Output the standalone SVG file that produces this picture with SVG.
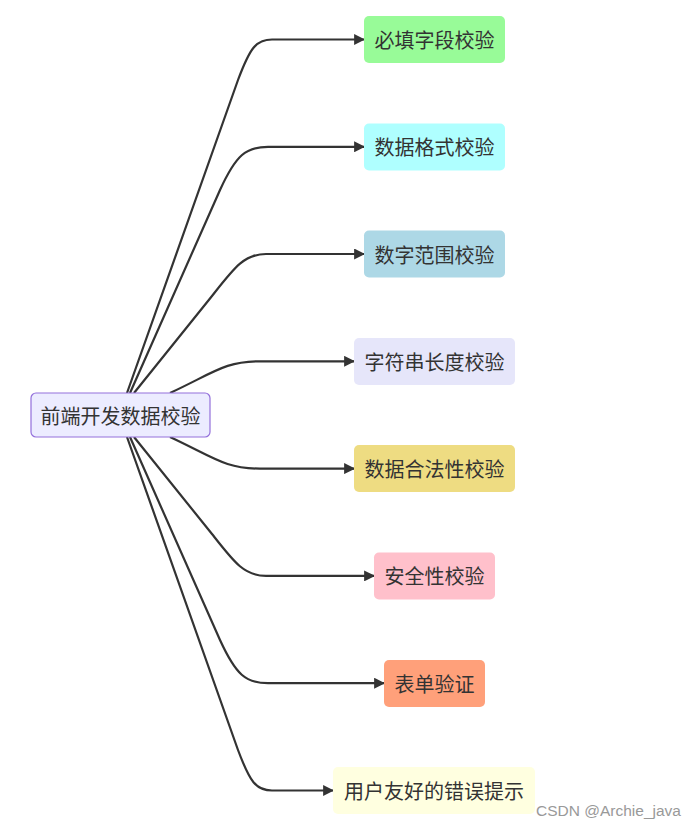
<svg xmlns="http://www.w3.org/2000/svg" width="697" height="829" viewBox="0 0 697 829">
<defs>
<marker id="arrow" viewBox="0 0 10 10" refX="9" refY="5" markerWidth="5" markerHeight="5" orient="auto" markerUnits="strokeWidth">
<path d="M0,0 L10,5 L0,10 z" fill="#333"/>
</marker>
<style>
.edge{fill:none;stroke:#333;stroke-width:2.2;marker-end:url(#arrow)}
.box{rx:5;ry:5}
.lbl{font-family:"Noto Sans CJK SC","Noto Sans",sans-serif;font-size:20px;fill:#333;text-anchor:middle;dominant-baseline:central}
</style>
</defs>
<rect width="697" height="829" fill="#fff"/>
<g id="edges">
<path class="edge" d="M127,393 L238,80 C250,48 256,39.5 272,39.5 L364,39.5"/>
<path class="edge" d="M130,393 L220,190 C236,155 246,146.8 268,146.8 L364,146.8"/>
<path class="edge" d="M134,393 L212,296 C234,268 244,254 266,254 L364,254"/>
<path class="edge" d="M170,393 C215,372 225,361.3 260,361.3 L354,361.3"/>
<path class="edge" d="M170,437 C215,458 225,468.6 260,468.6 L354,468.6"/>
<path class="edge" d="M134,437 L212,534 C234,562 244,575.9 266,575.9 L374,575.9"/>
<path class="edge" d="M130,437 L220,640 C236,675 246,683.2 268,683.2 L384,683.2"/>
<path class="edge" d="M127,437 L238,750 C250,782 256,790.5 272,790.5 L333,790.5"/>
</g>
<g id="root">
<rect class="box" x="31" y="393" width="179" height="44" fill="#ECECFF" stroke="#9370DB" stroke-width="1.2"/>
<text class="lbl" x="120.5" y="415">前端开发数据校验</text>
</g>
<g id="n1">
<rect class="box" x="364" y="16" width="141" height="47" fill="#98FB98"/>
<text class="lbl" x="434.5" y="39.5">必填字段校验</text>
</g>
<g id="n2">
<rect class="box" x="364" y="123.5" width="141" height="47" fill="#AFFFFF"/>
<text class="lbl" x="434.5" y="146.8">数据格式校验</text>
</g>
<g id="n3">
<rect class="box" x="364" y="230.5" width="141" height="47" fill="#ADD8E6"/>
<text class="lbl" x="434.5" y="254">数字范围校验</text>
</g>
<g id="n4">
<rect class="box" x="354" y="338" width="161" height="47" fill="#E6E6FA"/>
<text class="lbl" x="434.5" y="361.3">字符串长度校验</text>
</g>
<g id="n5">
<rect class="box" x="354" y="445" width="161" height="47" fill="#EEDC82"/>
<text class="lbl" x="434.5" y="468.6">数据合法性校验</text>
</g>
<g id="n6">
<rect class="box" x="374" y="552.5" width="121" height="47" fill="#FFC0CB"/>
<text class="lbl" x="434.5" y="575.9">安全性校验</text>
</g>
<g id="n7">
<rect class="box" x="384" y="660" width="101" height="47" fill="#FFA07A"/>
<text class="lbl" x="434.5" y="683.2">表单验证</text>
</g>
<g id="n8">
<rect class="box" x="333" y="767" width="202" height="47" fill="#FFFFE0"/>
<text class="lbl" x="434" y="790.5">用户友好的错误提示</text>
</g>
<text x="536" y="816" font-family="'Liberation Sans',Arial,sans-serif" font-size="15.5" fill="#999">CSDN @Archie_java</text>
</svg>
